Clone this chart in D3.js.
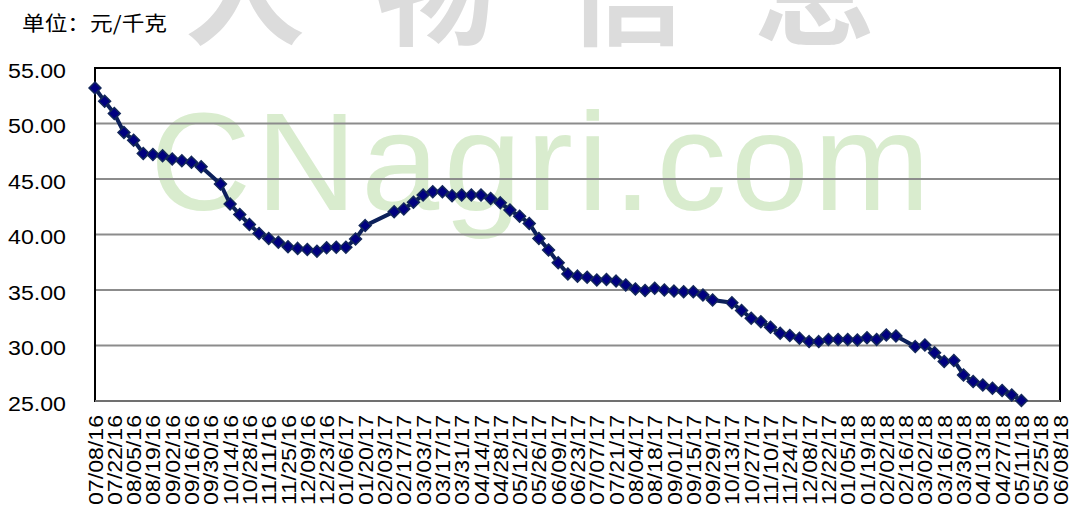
<!DOCTYPE html>
<html>
<head>
<meta charset="utf-8">
<script src="https://cdn.jsdelivr.net/npm/d3@7"></script>
<style>
  body { margin: 0; background: #fff; }
  svg { display: block; }
</style>
</head>
<body>
<svg id="chart" width="1073" height="510"></svg>
<script>
// weekly price, yuan per kg (weeks with no report are left out)
var dates = [
  "07/08/16","07/15/16","07/22/16","07/29/16","08/05/16","08/12/16","08/19/16","08/26/16",
  "09/02/16","09/09/16","09/16/16","09/23/16","10/07/16","10/14/16","10/21/16","10/28/16",
  "11/04/16","11/11/16","11/18/16","11/25/16","12/02/16","12/09/16","12/16/16","12/23/16",
  "12/30/16","01/06/17","01/13/17","01/20/17","02/10/17","02/17/17","02/24/17","03/03/17",
  "03/10/17","03/17/17","03/24/17","03/31/17","04/07/17","04/14/17","04/21/17","04/28/17",
  "05/05/17","05/12/17","05/19/17","05/26/17","06/02/17","06/09/17","06/16/17","06/23/17",
  "06/30/17","07/07/17","07/14/17","07/21/17","07/28/17","08/04/17","08/11/17","08/18/17",
  "08/25/17","09/01/17","09/08/17","09/15/17","09/22/17","09/29/17","10/13/17","10/20/17",
  "10/27/17","11/03/17","11/10/17","11/17/17","11/24/17","12/01/17","12/08/17","12/15/17",
  "12/22/17","12/29/17","01/05/18","01/12/18","01/19/18","01/26/18","02/02/18","02/09/18",
  "02/23/18","03/02/18","03/09/18","03/16/18","03/23/18","03/30/18","04/06/18","04/13/18",
  "04/20/18","04/27/18","05/04/18","05/11/18"
];
var prices = [
  53.2, 52.0, 50.9, 49.2, 48.5, 47.3, 47.2, 47.1,
  46.8, 46.65, 46.5, 46.1, 44.55, 42.75, 41.8, 40.9,
  40.1, 39.65, 39.3, 38.9, 38.75, 38.65, 38.5, 38.8,
  38.85, 38.85, 39.6, 40.8, 42.05, 42.3, 42.9, 43.55,
  43.85, 43.85, 43.5, 43.55, 43.55, 43.55, 43.25, 42.85,
  42.2, 41.65, 41.0, 39.65, 38.6, 37.45, 36.45, 36.25,
  36.15, 35.9, 35.95, 35.8, 35.45, 35.1, 34.95, 35.15,
  35.0, 34.9, 34.85, 34.85, 34.55, 34.1, 33.85, 33.15,
  32.45, 32.15, 31.65, 31.1, 30.9, 30.65, 30.35, 30.35,
  30.55, 30.55, 30.55, 30.5, 30.7, 30.55, 30.95, 30.85,
  29.9, 30.05, 29.35, 28.55, 28.65, 27.35, 26.75, 26.45,
  26.15, 25.95, 25.55, 25.05
];
var xTickLabels = [
  "07/08/16","07/22/16","08/05/16","08/19/16","09/02/16","09/16/16","09/30/16","10/14/16",
  "10/28/16","11/11/16","11/25/16","12/09/16","12/23/16","01/06/17","01/20/17","02/03/17",
  "02/17/17","03/03/17","03/17/17","03/31/17","04/14/17","04/28/17","05/12/17","05/26/17",
  "06/09/17","06/23/17","07/07/17","07/21/17","08/04/17","08/18/17","09/01/17","09/15/17",
  "09/29/17","10/13/17","10/27/17","11/10/17","11/24/17","12/08/17","12/22/17","01/05/18",
  "01/19/18","02/02/18","02/16/18","03/02/18","03/16/18","03/30/18","04/13/18","04/27/18",
  "05/11/18","05/25/18","06/08/18"
];
var yTicks = [25, 30, 35, 40, 45, 50, 55];
var unitLabel = "单位：元/千克";

var parse = d3.timeParse("%m/%d/%y");
var data = dates.map(function(d, i) { return { date: parse(d), value: prices[i] }; });

var plotLeft = 95, plotRight = 1060, plotTop = 68, plotBottom = 401;

var svg = d3.select("#chart");

// watermark
svg.append("text")
    .attr("x", 530).attr("y", 36)
    .attr("text-anchor", "middle")
    .style("font-family", "'Noto Sans CJK SC'")
    .style("font-weight", "700")
    .style("font-size", "120px")
    .attr("fill", "#dcdcdc")
    .attr("textLength", 690)
    .attr("lengthAdjust", "spacing")
    .text("人物信息");
svg.append("text")
    .attr("x", 150).attr("y", 210)
    .style("font-family", "Liberation Sans, Arial")
    .style("font-size", "140px")
    .attr("fill", "#d9ecce")
    .attr("textLength", 780)
    .attr("lengthAdjust", "spacing")
    .text("CNagri.com");

var x = d3.scaleTime()
    .domain([parse(xTickLabels[0]), parse(xTickLabels[xTickLabels.length - 1])])
    .range([plotLeft, plotRight]);
var y = d3.scaleLinear().domain([25, 55]).range([plotBottom, plotTop]);

// grid
svg.append("g").selectAll("line")
    .data(yTicks.slice(1, -1))
    .enter().append("line")
    .attr("x1", plotLeft).attr("x2", plotRight)
    .attr("y1", function(d) { return y(d); })
    .attr("y2", function(d) { return y(d); })
    .attr("stroke", "#8c8c8c")
    .attr("stroke-width", 2);

// plot frame
svg.append("rect")
    .attr("x", plotLeft).attr("y", plotTop)
    .attr("width", plotRight - plotLeft).attr("height", plotBottom - plotTop)
    .attr("fill", "none")
    .attr("stroke", "#000")
    .attr("stroke-width", 2);
svg.append("line")
    .attr("x1", plotLeft).attr("x2", plotRight)
    .attr("y1", plotBottom).attr("y2", plotBottom)
    .attr("stroke", "#707070").attr("stroke-width", 2);

// y axis labels
var yAxis = svg.append("g")
    .attr("transform", "translate(" + plotLeft + ",0)")
    .call(d3.axisLeft(y).tickValues(yTicks).tickFormat(d3.format(".2f")).tickSize(0).tickPadding(29));
yAxis.select(".domain").remove();
yAxis.selectAll("text")
    .style("font-family", "Liberation Sans, Arial")
    .style("font-size", "20px")
    .attr("fill", "#000")
    .attr("dy", "0.45em")
    .attr("textLength", 58)
    .attr("lengthAdjust", "spacingAndGlyphs");

// x axis labels
var xAxis = svg.append("g")
    .attr("transform", "translate(0," + plotBottom + ")")
    .call(d3.axisBottom(x)
        .tickValues(xTickLabels.map(parse))
        .tickFormat(function(d, i) { return xTickLabels[i]; })
        .tickSize(0));
xAxis.select(".domain").remove();
xAxis.selectAll("text")
    .style("font-family", "Liberation Sans, Arial")
    .style("font-size", "20px")
    .attr("fill", "#000")
    .attr("text-anchor", "end")
    .attr("x", -14)
    .attr("y", 0)
    .attr("dy", "0.35em")
    .attr("transform", "rotate(-90)")
    .attr("textLength", 90)
    .attr("lengthAdjust", "spacingAndGlyphs");

// series
svg.append("path")
    .datum(data)
    .attr("fill", "none")
    .attr("stroke", "#0c205a")
    .attr("stroke-width", 4)
    .attr("d", d3.line()
        .x(function(d) { return x(d.date); })
        .y(function(d) { return y(d.value); }));

svg.append("g").selectAll("path")
    .data(data)
    .enter().append("path")
    .attr("transform", function(d) { return "translate(" + x(d.date) + "," + y(d.value) + ")"; })
    .attr("d", d3.symbol().type(d3.symbolDiamond2).size(90))
    .attr("fill", "#000080")
    .attr("stroke", "#14285a")
    .attr("stroke-width", 1.5);

// unit label
svg.append("text")
    .attr("x", 22).attr("y", 31)
    .style("font-family", "'Noto Sans CJK SC'")
    .style("font-size", "20px")
    .attr("fill", "#000")
    .attr("textLength", 145)
    .attr("lengthAdjust", "spacingAndGlyphs")
    .text(unitLabel);
</script>
</body>
</html>
